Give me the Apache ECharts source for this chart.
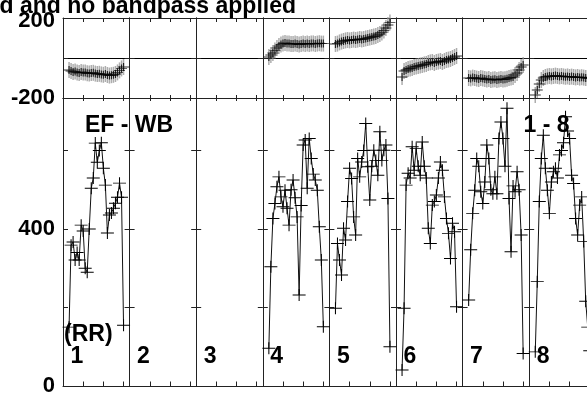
<!DOCTYPE html>
<html>
<head>
<meta charset="utf-8">
<script src="https://cdn.jsdelivr.net/npm/echarts@6/dist/echarts.min.js"></script>
<style>
html, body { margin: 0; padding: 0; background: #fff; }
#chart { width: 587px; height: 398px; }
</style>
</head>
<body>
<div id="chart"></div>
<script>
const channels = [3, 4, 5, 6, 7, 8, 9, 10, 11, 12, 13, 14, 15, 16, 17, 18, 19, 20, 21, 22, 23, 24, 25, 26, 27, 28, 29, 30];
const panelNames = ["1", "2", "3", "4", "5", "6", "7", "8"];
const phaseLabels = [-200, 200];
const ampLabels = [0, 400];

// amplitude per panel (lower plot)
const ampPanel1 = [150, 359, 367, 321, 340, 321, 410, 395, 300, 290, 400, 504, 530, 619, 570, 600, 620, 555, 512, 390, 436, 441, 453, 466, 481, 517, 481, 155];
const ampPanel4 = [96, 304, 427, 465, 508, 533, 482, 457, 499, 453, 410, 500, 525, 480, 431, 232, 460, 614, 627, 504, 631, 580, 540, 525, 499, 406, 321, 151];
const ampPanel5 = [198, 363, 321, 283, 402, 372, 470, 555, 529, 431, 385, 580, 533, 571, 600, 669, 559, 474, 560, 601, 575, 537, 648, 575, 601, 614, 478, 100];
const ampPanel6 = [41, 198, 512, 542, 530, 610, 550, 605, 560, 537, 622, 560, 530, 402, 363, 461, 470, 487, 530, 571, 550, 482, 427, 389, 325, 415, 393, 202];
const ampPanel7 = [219, 347, 440, 499, 580, 560, 495, 465, 520, 614, 580, 500, 490, 533, 490, 631, 673, 631, 560, 708, 478, 342, 510, 495, 546, 500, 385, 83];
const ampPanel8 = [87, 266, 470, 580, 639, 555, 499, 440, 520, 546, 555, 530, 589, 600, 620, 686, 650, 631, 537, 516, 427, 385, 461, 482, 368, 216, 150, 90];

// phase per panel (upper plot)
const phasePanel1 = [-60, -65, -70, -68, -72, -75, -70, -73, -72, -76, -78, -75, -74, -78, -80, -79, -82, -84, -80, -85, -88, -86, -84, -80, -72, -62, -52, -45];
const phasePanel4 = [5, 15, 25, 38, 50, 60, 68, 72, 75, 73, 72, 70, 70, 72, 70, 68, 70, 72, 70, 72, 70, 72, 73, 70, 72, 74, 72, 72];
const phasePanel5 = [70, 72, 78, 82, 85, 88, 90, 88, 90, 92, 90, 92, 95, 93, 95, 98, 100, 102, 105, 108, 110, 115, 120, 128, 138, 150, 165, 178];
const phasePanel6 = [-95, -65, -60, -55, -52, -50, -45, -42, -40, -38, -35, -32, -30, -25, -22, -20, -25, -20, -18, -15, -20, -15, -10, -8, -5, 0, 5, 10];
const phasePanel7 = [-100, -102, -98, -100, -103, -105, -100, -102, -105, -108, -105, -110, -108, -106, -110, -108, -105, -108, -106, -104, -100, -98, -95, -85, -75, -60, -45, -35];
const phasePanel8 = [-185, -160, -130, -110, -100, -95, -92, -90, -92, -90, -88, -90, -92, -90, -92, -94, -92, -95, -93, -95, -97, -95, -98, -96, -98, -100, -100, -102];

const ampByPanel = [ampPanel1, null, null, ampPanel4, ampPanel5, ampPanel6, ampPanel7, ampPanel8];
const phaseByPanel = [phasePanel1, null, null, phasePanel4, phasePanel5, phasePanel6, phasePanel7, phasePanel8];

const LEFT = 63;
const PANEL_W = 66.6;
const PH_TOP = 18, PH_H = 80;
const AMP_TOP = 98, AMP_H = 288;
const AX = "#222";
const FONT = '"Liberation Sans", Arial, sans-serif';
const CROSS = "path://M0,6L12,6M6,0L6,12";

const chart = echarts.init(document.getElementById("chart"));

const grid = [], xAxis = [], yAxis = [], series = [];

function xAx(gi, pos, len) {
  return {
    type: "value", gridIndex: gi, position: pos, min: 0, max: 33, interval: 10,
    axisLine: { show: true, onZero: false, lineStyle: { color: AX, width: 1 } },
    axisTick: { show: true, inside: true, length: len, lineStyle: { color: AX, width: 1 } },
    axisLabel: { show: false },
    splitLine: { show: false },
  };
}

function yAx(gi, pos, min, max, labels, split) {
  return {
    type: "value", gridIndex: gi, position: pos, min, max, interval: 200,
    axisLine: { show: true, onZero: false, lineStyle: { color: AX, width: 1 } },
    axisTick: { show: true, inside: true, length: 5, lineStyle: { color: AX, width: 1 } },
    axisLabel: labels
      ? {
          show: true, margin: 8, color: "#000", fontSize: 22, fontWeight: "bold", fontFamily: FONT,
          formatter: (v) => (labels.includes(v) ? (v === 200 ? "{lo|200}" : String(v)) : ""),
          rich: { lo: { color: "#000", fontSize: 22, fontWeight: "bold", fontFamily: FONT, padding: [6, 0, 0, 0] } },
        }
      : { show: false },
    splitLine: { show: !!split, lineStyle: { color: "#000", width: 1 } },
  };
}

for (let i = 0; i < panelNames.length; i++) {
  const left = LEFT + i * PANEL_W;
  const gPh = grid.length;
  grid.push({ left, top: PH_TOP, width: PANEL_W, height: PH_H, outerBoundsMode: "none" });
  const gAmp = grid.length;
  grid.push({ left, top: AMP_TOP, width: PANEL_W, height: AMP_H, outerBoundsMode: "none" });

  const xPh = xAxis.length;
  xAxis.push(xAx(gPh, "bottom", 3), xAx(gPh, "top", 4));
  const xAmp = xAxis.length;
  xAxis.push(xAx(gAmp, "bottom", 4.5), xAx(gAmp, "top", 3));

  const yPh = yAxis.length;
  yAxis.push(yAx(gPh, "left", -200, 200, i === 0 ? phaseLabels : null, true), yAx(gPh, "right", -200, 200, null, false));
  const yAmp = yAxis.length;
  yAxis.push(yAx(gAmp, "left", 0, 734, i === 0 ? ampLabels : null, false), yAx(gAmp, "right", 0, 734, null, false));

  const amp = ampByPanel[i];
  if (amp) {
    series.push({
      type: "line", xAxisIndex: xAmp, yAxisIndex: yAmp,
      data: channels.map((c, k) => [c, amp[k]]),
      symbol: CROSS, symbolSize: [13, 12], showAllSymbol: true,
      lineStyle: { color: "#111", width: 1 },
      itemStyle: { color: "none", borderColor: "#000", borderWidth: 1 },
      silent: true, z: 3,
    });
  }
  const ph = phaseByPanel[i];
  if (ph) {
    series.push({
      type: "scatter", xAxisIndex: xPh, yAxisIndex: yPh,
      data: channels.map((c, k) => [c, ph[k]]),
      symbol: "rect", symbolSize: [1.5, 16],
      itemStyle: { color: "#999" },
      silent: true, z: 2,
    });
    series.push({
      type: "scatter", xAxisIndex: xPh, yAxisIndex: yPh,
      data: channels.map((c, k) => [c, ph[k]]),
      symbol: CROSS, symbolSize: [11, 8],
      itemStyle: { color: "none", borderColor: "#000", borderWidth: 1 },
      silent: true, z: 3,
    });
  }
}

const txt = (x, y, text, align) => ({
  type: "text", x, y, silent: true, z: 10,
  style: { text, fill: "#000", font: 'bold 23px ' + FONT, textAlign: align || "left", textVerticalAlign: "middle" },
});

const graphic = [
  txt(296, 7, "d and no bandpass applied", "right"),
  txt(85, 126, "EF - WB"),
  txt(523.5, 126, "1 - 8"),
  txt(64, 335, "(RR)"),
];
panelNames.forEach((name, i) => graphic.push(txt(LEFT + i * PANEL_W + 7.5, 357, name)));

chart.setOption({
  animation: false,
  tooltip: { show: false },
  grid, xAxis, yAxis, series, graphic,
});
</script>
</body>
</html>
